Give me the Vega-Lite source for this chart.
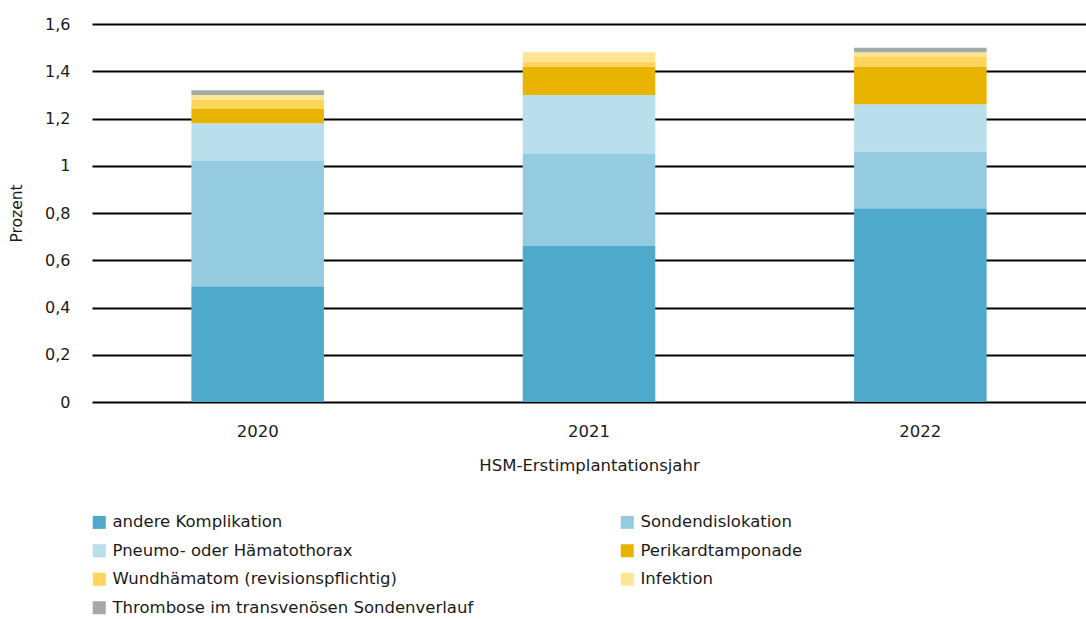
{
  "$schema": "https://vega.github.io/schema/vega-lite/v6.json",
  "width": 994,
  "height": 378,
  "autosize": {"type": "none"},
  "padding": {"left": 92, "top": 24, "right": 0, "bottom": 217},
  "background": "white",
  "config": {
    "font": "DejaVu Sans",
    "view": {"stroke": null},
    "axis": {"labelFont": "DejaVu Sans", "titleFont": "DejaVu Sans", "labelColor": "#1a1a1a", "titleColor": "#1a1a1a", "titleFontWeight": "normal", "labelFontSize": 16.5, "titleFontSize": 16.5},
    "legend": {"labelFont": "DejaVu Sans", "labelFontSize": 16.5, "labelColor": "#1a1a1a"}
  },
  "data": {
    "values": [
      {"jahr": "2020", "kat": "andere Komplikation", "ord": 1, "wert": 0.49},
      {"jahr": "2020", "kat": "Sondendislokation", "ord": 2, "wert": 0.53},
      {"jahr": "2020", "kat": "Pneumo- oder Hämatothorax", "ord": 3, "wert": 0.16},
      {"jahr": "2020", "kat": "Perikardtamponade", "ord": 4, "wert": 0.06},
      {"jahr": "2020", "kat": "Wundhämatom (revisionspflichtig)", "ord": 5, "wert": 0.04},
      {"jahr": "2020", "kat": "Infektion", "ord": 6, "wert": 0.02},
      {"jahr": "2020", "kat": "Thrombose im transvenösen Sondenverlauf", "ord": 7, "wert": 0.02},
      {"jahr": "2021", "kat": "andere Komplikation", "ord": 1, "wert": 0.66},
      {"jahr": "2021", "kat": "Sondendislokation", "ord": 2, "wert": 0.39},
      {"jahr": "2021", "kat": "Pneumo- oder Hämatothorax", "ord": 3, "wert": 0.25},
      {"jahr": "2021", "kat": "Perikardtamponade", "ord": 4, "wert": 0.12},
      {"jahr": "2021", "kat": "Wundhämatom (revisionspflichtig)", "ord": 5, "wert": 0.02},
      {"jahr": "2021", "kat": "Infektion", "ord": 6, "wert": 0.04},
      {"jahr": "2021", "kat": "Thrombose im transvenösen Sondenverlauf", "ord": 7, "wert": 0},
      {"jahr": "2022", "kat": "andere Komplikation", "ord": 1, "wert": 0.82},
      {"jahr": "2022", "kat": "Sondendislokation", "ord": 2, "wert": 0.24},
      {"jahr": "2022", "kat": "Pneumo- oder Hämatothorax", "ord": 3, "wert": 0.20},
      {"jahr": "2022", "kat": "Perikardtamponade", "ord": 4, "wert": 0.16},
      {"jahr": "2022", "kat": "Wundhämatom (revisionspflichtig)", "ord": 5, "wert": 0.04},
      {"jahr": "2022", "kat": "Infektion", "ord": 6, "wert": 0.02},
      {"jahr": "2022", "kat": "Thrombose im transvenösen Sondenverlauf", "ord": 7, "wert": 0.02}
    ]
  },
  "mark": {"type": "bar"},
  "encoding": {
    "x": {
      "field": "jahr", "type": "nominal",
      "scale": {"paddingInner": 0.6, "paddingOuter": 0.3},
      "axis": {"title": "HSM-Erstimplantationsjahr", "labelAngle": 0, "domain": false, "ticks": false, "labelPadding": 21, "titlePadding": 18}
    },
    "y": {
      "field": "wert", "type": "quantitative", "aggregate": "sum", "stack": "zero",
      "scale": {"domain": [0, 1.6]},
      "axis": {"title": "Prozent", "titleFontSize": 15.5, "labelFontSize": 16, "values": [0, 0.2, 0.4, 0.6, 0.8, 1, 1.2, 1.4, 1.6], "labelExpr": "replace(format(datum.value, '.1~f'), '.', ',')", "domain": false, "ticks": false, "gridColor": "#000000", "gridWidth": 2, "gridOpacity": 1, "labelPadding": 22, "titlePadding": 20}
    },
    "color": {
      "field": "kat", "type": "nominal",
      "scale": {
        "domain": ["andere Komplikation", "Sondendislokation", "Pneumo- oder Hämatothorax", "Perikardtamponade", "Wundhämatom (revisionspflichtig)", "Infektion", "Thrombose im transvenösen Sondenverlauf"],
        "range": ["#4fa9cb", "#95cbe0", "#b9deec", "#e9b400", "#fdd55a", "#fee493", "#a3aba5"]
      },
      "legend": {
        "title": null, "orient": "none", "legendX": -1, "legendY": 490, "columns": 2, "direction": "horizontal", "gridAlign": "all", "columnPadding": 145, "labelLimit": 500,
        "symbolType": "square", "symbolSize": 170, "symbolStrokeWidth": 0, "rowPadding": 11.5, "labelOffset": 5
      }
    },
    "order": {"field": "ord", "type": "quantitative"}
  }
}
